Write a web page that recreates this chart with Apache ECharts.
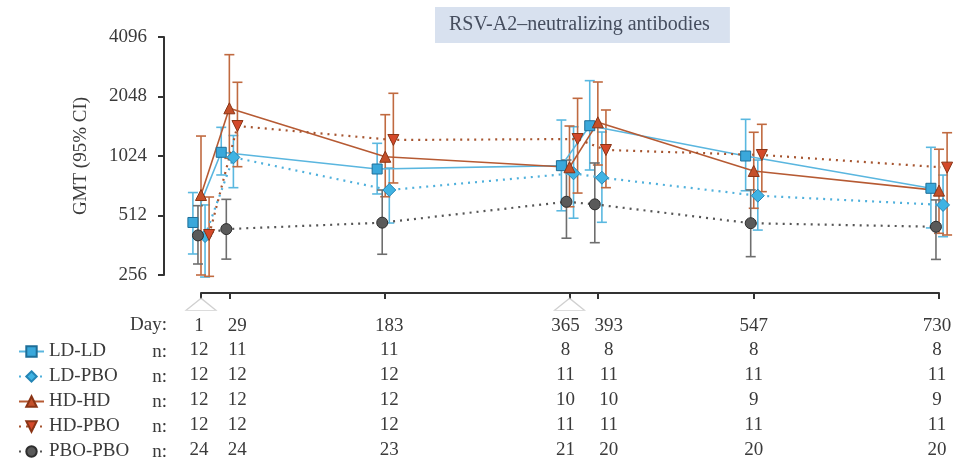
<!DOCTYPE html>
<html>
<head>
<meta charset="utf-8">
<script src="https://cdn.jsdelivr.net/npm/echarts@6/dist/echarts.min.js"></script>
<style>
html,body{margin:0;padding:0;background:#fff;}
#chart{width:956px;height:458px;}
</style>
</head>
<body>
<div id="chart"></div>
<script>
// ---- data ----
const days = [1, 29, 183, 365, 393, 547, 730];
const vaccinationDays = [1, 365];
const groupNames = ['LD-LD', 'LD-PBO', 'HD-HD', 'HD-PBO', 'PBO-PBO'];

const gmtLDLD = [472, 1069, 880, 915, 1457, 1024, 703];
const loLDLD  = [327, 821, 658, 541, 870, 683, 443];
const hiLDLD  = [669, 1430, 1187, 1557, 2463, 1570, 1133];

const gmtLDPBO = [403, 1008, 689, 837, 795, 645, 579];
const loLDPBO  = [250, 708, 469, 496, 473, 432, 400];
const hiLDPBO  = [579, 1300, 890, 1440, 1354, 977, 820];

const gmtHDHD = [650, 1785, 1015, 898, 1516, 860, 684];
const loHDHD  = [256, 997, 637, 567, 922, 557, 416];
const hiHDHD  = [1292, 3334, 1657, 1452, 2425, 1350, 1108];

const gmtHDPBO = [408, 1452, 1234, 1248, 1098, 1036, 894];
const loHDPBO  = [252, 904, 748, 665, 708, 676, 408];
const hiHDPBO  = [635, 2417, 2126, 2005, 1750, 1481, 1343];

const gmtPBO = [406, 437, 471, 601, 583, 468, 449];
const loPBO  = [291, 308, 326, 393, 373, 317, 307];
const hiPBO  = [574, 618, 689, 977, 944, 690, 614];

const nLDLD  = [12, 11, 11, 8, 8, 8, 8];
const nLDPBO = [12, 12, 12, 11, 11, 11, 11];
const nHDHD  = [12, 12, 12, 10, 10, 9, 9];
const nHDPBO = [12, 12, 12, 11, 11, 11, 11];
const nPBO   = [24, 24, 23, 21, 20, 20, 20];

const yTicks = [256, 512, 1024, 2048, 4096];

// ---- styles ----
const FONT = "'Liberation Serif','DejaVu Serif',serif";
const TXT = '#3a3a3a';
// horizontal nudge (px) of each table column relative to its tick, as in the reference
const columnNudge = [-2, 8, 4, -4, 11, 0, -2];
const richCols = {};
columnNudge.forEach(function (s, k) {
  richCols['c' + k] = {
    fontFamily: FONT, fontSize: 19, color: TXT,
    padding: s >= 0 ? [0, 0, 0, 2 * s] : [0, -2 * s, 0, 0]
  };
});
function colText(v, arr) {
  const k = days.indexOf(v);
  return k >= 0 ? '{c' + k + '|' + arr[k] + '}' : '';
}

const groups = [
  {name: groupNames[0], gmt: gmtLDLD, lo: loLDLD, hi: hiLDLD, n: nLDLD, dodge: -8,
   symbol: 'rect', size: 10, rotate: 0, fill: '#3aa8db', border: '#1e6e98',
   line: '#5ab6df', lineType: 'solid', bar: '#5ab8e0'},
  {name: groupNames[1], gmt: gmtLDPBO, lo: loLDPBO, hi: hiLDPBO, n: nLDPBO, dodge: 4,
   symbol: 'diamond', size: 13, rotate: 0, fill: '#40b3e3', border: '#2485b5',
   line: '#4fb0dc', lineType: [2, 5], bar: '#5ab8e0'},
  {name: groupNames[2], gmt: gmtHDHD, lo: loHDHD, hi: hiHDHD, n: nHDHD, dodge: 0,
   symbol: 'triangle', size: 11, rotate: 0, fill: '#c4502a', border: '#8a3415',
   line: '#b65a33', lineType: 'solid', bar: '#c06a40'},
  {name: groupNames[3], gmt: gmtHDPBO, lo: loHDPBO, hi: hiHDPBO, n: nHDPBO, dodge: 8,
   symbol: 'triangle', size: 11, rotate: 180, fill: '#d4492a', border: '#8a3415',
   line: '#a65530', lineType: [2, 5], bar: '#c06a40'},
  {name: groupNames[4], gmt: gmtPBO, lo: loPBO, hi: hiPBO, n: nPBO, dodge: -3,
   symbol: 'circle', size: 11, rotate: 0, fill: '#5a5a5a', border: '#2e2e2e',
   line: '#555555', lineType: [2, 5], bar: '#6e6e6e'}
];

const series = [];
groups.forEach(function (g) {
  series.push({
    name: g.name + ' CI',
    type: 'custom',
    clip: false,
    z: 1,
    encode: {x: 0, y: [1, 2]},
    data: days.map(function (d, i) { return [d + g.dodge, g.lo[i], g.hi[i]]; }),
    renderItem: function (params, api) {
      const x = api.value(0);
      const a = api.coord([x, api.value(1)]);
      const b = api.coord([x, api.value(2)]);
      const w = 5;
      const st = {stroke: g.bar, lineWidth: 1.6};
      return {type: 'group', children: [
        {type: 'line', shape: {x1: a[0], y1: a[1], x2: b[0], y2: b[1]}, style: st},
        {type: 'line', shape: {x1: a[0] - w, y1: a[1], x2: a[0] + w, y2: a[1]}, style: st},
        {type: 'line', shape: {x1: b[0] - w, y1: b[1], x2: b[0] + w, y2: b[1]}, style: st}
      ]};
    }
  });
});
groups.forEach(function (g) {
  series.push({
    name: g.name,
    type: 'line',
    clip: false,
    z: 3,
    symbol: g.symbol,
    symbolSize: g.size,
    symbolRotate: g.rotate,
    showAllSymbol: true,
    itemStyle: {color: g.fill, borderColor: g.border, borderWidth: 1},
    lineStyle: {color: g.line, width: g.lineType === 'solid' ? 1.6 : 2.2, type: g.lineType},
    data: days.map(function (d, i) { return [d + g.dodge, g.gmt[i]]; })
  });
});
// vaccination markers below the day axis
series.push({
  name: 'vaccination',
  type: 'scatter',
  clip: false,
  silent: true,
  symbol: 'triangle',
  symbolSize: [30, 12],
  itemStyle: {color: 'rgba(0,0,0,0)', borderColor: '#c4c4c4', borderWidth: 1.2},
  data: vaccinationDays.map(function (d) { return [d, 182]; })
});

const xMin = days[0], xMax = days[days.length - 1];
const xAxes = [{
  type: 'value', min: xMin, max: xMax, position: 'bottom', offset: 18,
  splitLine: {show: false},
  axisLine: {show: true, lineStyle: {color: '#333', width: 2}},
  axisTick: {show: true, customValues: days, length: 6, lineStyle: {color: '#333', width: 2}},
  axisLabel: {customValues: days, margin: 24, fontFamily: FONT, fontSize: 19, color: TXT,
    formatter: function (v) { return colText(v, days); }, rich: richCols}
}];
const rowY = [350, 375, 400, 425, 450];
groups.forEach(function (g, gi) {
  xAxes.push({
    type: 'value', min: xMin, max: xMax, position: 'bottom', offset: rowY[gi] - 284,
    splitLine: {show: false}, axisLine: {show: false}, axisTick: {show: false},
    axisLabel: {
      customValues: days, margin: 0, fontFamily: FONT, fontSize: 19, color: TXT,
      formatter: function (v) { return colText(v, g.n); }, rich: richCols
    }
  });
});

const graphics = [{
  type: 'text', right: 956 - 167, top: 323 - 7,
  style: {text: 'Day:', font: '19px ' + FONT, fill: TXT, textAlign: 'right'}
}];
rowY.forEach(function (y) {
  graphics.push({type: 'text', right: 956 - 167, top: y - 7,
    style: {text: 'n:', font: '19px ' + FONT, fill: TXT, textAlign: 'right'}});
});

const chart = echarts.init(document.getElementById('chart'), null, {renderer: 'canvas'});
chart.setOption({
  animation: false,
  backgroundColor: '#ffffff',
  title: {
    text: 'RSV-A2\u2013neutralizing antibodies',
    left: 435, top: 7,
    padding: [8, 20, 8, 14],
    backgroundColor: '#d8e1ef',
    textStyle: {fontFamily: FONT, fontSize: 20, fontWeight: 'normal', color: '#454d5e'}
  },
  grid: {left: 201, right: 17, top: 37, bottom: 183, containLabel: false, outerBoundsMode: 'none'},
  legend: {
    orient: 'vertical', left: 18, top: 342, height: 140, padding: 0,
    itemWidth: 25, itemHeight: 13, itemGap: 6,
    data: groupNames,
    textStyle: {fontFamily: FONT, fontSize: 19, color: TXT}
  },
  xAxis: xAxes,
  yAxis: {
    type: 'log', logBase: 2, min: yTicks[0], max: yTicks[yTicks.length - 1], offset: 37,
    name: 'GMT (95% CI)', nameLocation: 'middle', nameGap: 73, nameRotate: 90,
    nameTextStyle: {fontFamily: FONT, fontSize: 19, color: TXT},
    splitLine: {show: false},
    axisLine: {show: true, lineStyle: {color: '#333', width: 2}},
    axisTick: {show: true, length: 6, lineStyle: {color: '#333', width: 2}},
    axisLabel: {margin: 17, fontFamily: FONT, fontSize: 19, color: TXT,
      formatter: function (v) { return String(Math.round(v)); }}
  },
  graphic: graphics,
  series: series
});
</script>
</body>
</html>
